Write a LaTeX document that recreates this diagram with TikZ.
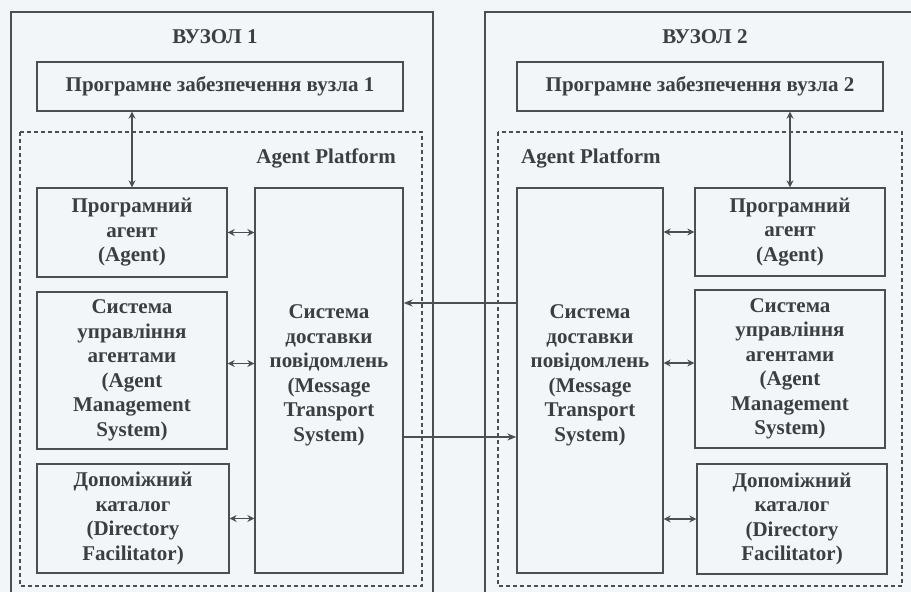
\documentclass[tikz,border=0pt]{standalone}
\usepackage{fontspec}
\setmainfont{Liberation Serif}
\usetikzlibrary{arrows.meta}
\definecolor{bgc}{HTML}{F3F6F8}
\definecolor{ink}{HTML}{3A3F44}
\definecolor{linec}{HTML}{4A4F55}
\begin{document}
\begin{tikzpicture}[x=1pt,y=-1pt,
  txt/.style={font=\fontsize{21}{24.5}\selectfont\bfseries, text=ink, align=center, inner sep=0pt},
  box/.style={txt, draw=linec, line width=1.3pt, rectangle},
  outerbox/.style={draw=linec, line width=1.2pt},
  platform/.style={draw=linec, line width=1.7pt, dash pattern=on 4pt off 3pt},
  dbl/.style={linec, line width=1.6pt, {Stealth[length=7pt,width=7pt]}-{Stealth[length=7pt,width=7pt]}},
  sgl/.style={linec, line width=1.6pt, -{Stealth[length=9pt,width=7pt]}}
]
\useasboundingbox (0,0) rectangle (911,592);
\fill[bgc] (0,0) rectangle (911,592);
\clip (0,0) rectangle (911,592);

% outer node frames
\draw[outerbox] (11,12) rectangle (433,610);
\draw[outerbox] (485,12) rectangle (925,610);
\node[txt] (t1) at (215,37) {ВУЗОЛ 1};
\node[txt] (t2) at (705,37) {ВУЗОЛ 2};

% agent platforms
\draw[platform] (20,132) rectangle (422,586);
\draw[platform] (498,132) rectangle (902,586);
\node[txt, anchor=east] (ap1) at (396,158) {Agent Platform};
\node[txt, anchor=west] (ap2) at (521,158) {Agent Platform};

% node 1
\node[box, minimum width=366pt, minimum height=49pt] (sw1) at (220,86.5) {Програмне забезпечення вузла 1};
\node[box, minimum width=190pt, minimum height=89pt] (ag1) at (132,232.5) {Програмний\\агент\\(Agent)};
\node[box, minimum width=190pt, minimum height=157pt] (ams1) at (132,370.5) {Система\\управління\\агентами\\(Agent\\Management\\System)};
\node[box, minimum width=192pt, minimum height=109pt] (df1) at (133,518.5) {Допоміжний\\каталог\\(Directory\\Facilitator)};
\node[box, minimum width=148pt, minimum height=385pt] (mts1) at (329,380.5) {Система\\доставки\\повідомлень\\(Message\\Transport\\System)\\[-10pt]};

% node 2
\node[box, minimum width=366pt, minimum height=49pt] (sw2) at (700,86.5) {Програмне забезпечення вузла 2};
\node[box, minimum width=146pt, minimum height=385pt] (mts2) at (590,380.5) {Система\\доставки\\повідомлень\\(Message\\Transport\\System)\\[-10pt]};
\node[box, minimum width=190pt, minimum height=88pt] (ag2) at (790,232) {Програмний\\агент\\(Agent)};
\node[box, minimum width=190pt, minimum height=158pt] (ams2) at (790,369) {Система\\управління\\агентами\\(Agent\\Management\\System)};
\node[box, minimum width=190pt, minimum height=110pt] (df2) at (792,519) {Допоміжний\\каталог\\(Directory\\Facilitator)};

% vertical links
\draw[dbl] (sw1.south -| ag1.north) -- (ag1.north);
\draw[dbl] (sw2.south -| ag2.north) -- (ag2.north);

% links inside node 1
\coordinate (a1) at ([yshift=7pt]ams1.east);
\coordinate (a2) at ([yshift=6pt]ams2.west);
\draw[dbl] (ag1.east) -- (ag1.east -| mts1.west);
\draw[dbl] (a1) -- (a1 -| mts1.west);
\draw[dbl] (df1.east) -- (df1.east -| mts1.west);

% links inside node 2
\draw[dbl] (mts2.east |- ag2.west) -- (ag2.west);
\draw[dbl] (mts2.east |- a2) -- (a2);
\draw[dbl] (mts2.east |- df2.west) -- (df2.west);

% links between the nodes
\coordinate (h1) at (0,303);
\coordinate (h2) at (0,437);
\draw[sgl] (mts2.west |- h1) -- (mts1.east |- h1);
\draw[sgl] (mts1.east |- h2) -- (mts2.west |- h2);
\end{tikzpicture}
\end{document}
